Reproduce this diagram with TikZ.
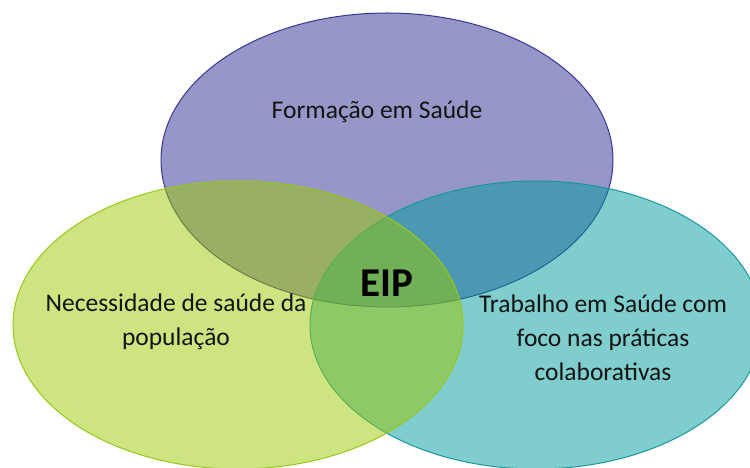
\documentclass[tikz,border=0pt]{standalone}
\usepackage{fontspec}
\setmainfont{Carlito}
\usetikzlibrary{shapes.geometric}
\definecolor{formacao}{RGB}{45,45,145}
\definecolor{formacaoline}{RGB}{55,55,150}
\definecolor{trabalho}{RGB}{0,155,155}
\definecolor{trabalholine}{RGB}{25,150,160}
\definecolor{necessidade}{RGB}{155,201,1}
\definecolor{necessidadeline}{RGB}{150,200,25}
\definecolor{textcol}{RGB}{20,20,20}
\begin{document}
\begin{tikzpicture}[x=1pt,y=1pt,
	set/.style={ellipse,inner sep=0pt,fill opacity=.5,line width=1pt},
	label/.style={align=center,text=textcol,font=\fontsize{25.5}{34}\selectfont}]
			\useasboundingbox (0,0) rectangle (750,468);
			\node[set,fill=formacao,draw=formacaoline,minimum width=452pt,minimum height=294pt] (F) at (387,308) {};
			\node[set,fill=trabalho,draw=trabalholine,minimum width=452pt,minimum height=288pt] (T) at (536,143) {};
			\node[set,fill=necessidade,draw=necessidadeline,minimum width=450pt,minimum height=288pt] (N) at (238,143) {};
			\node[label] (FL) at (377,356) {Formação em Saúde};
			\node[label] (NL) at (176,146) {Necessidade de saúde da\\população};
			\node[label] (TL) at (603,130) {Trabalho em Saúde com\\foco nas práticas\\colaborativas};
			\node[font=\fontsize{41}{48}\selectfont\bfseries] (EIP) at (387,185) {EIP};
		\end{tikzpicture}
\end{document}
